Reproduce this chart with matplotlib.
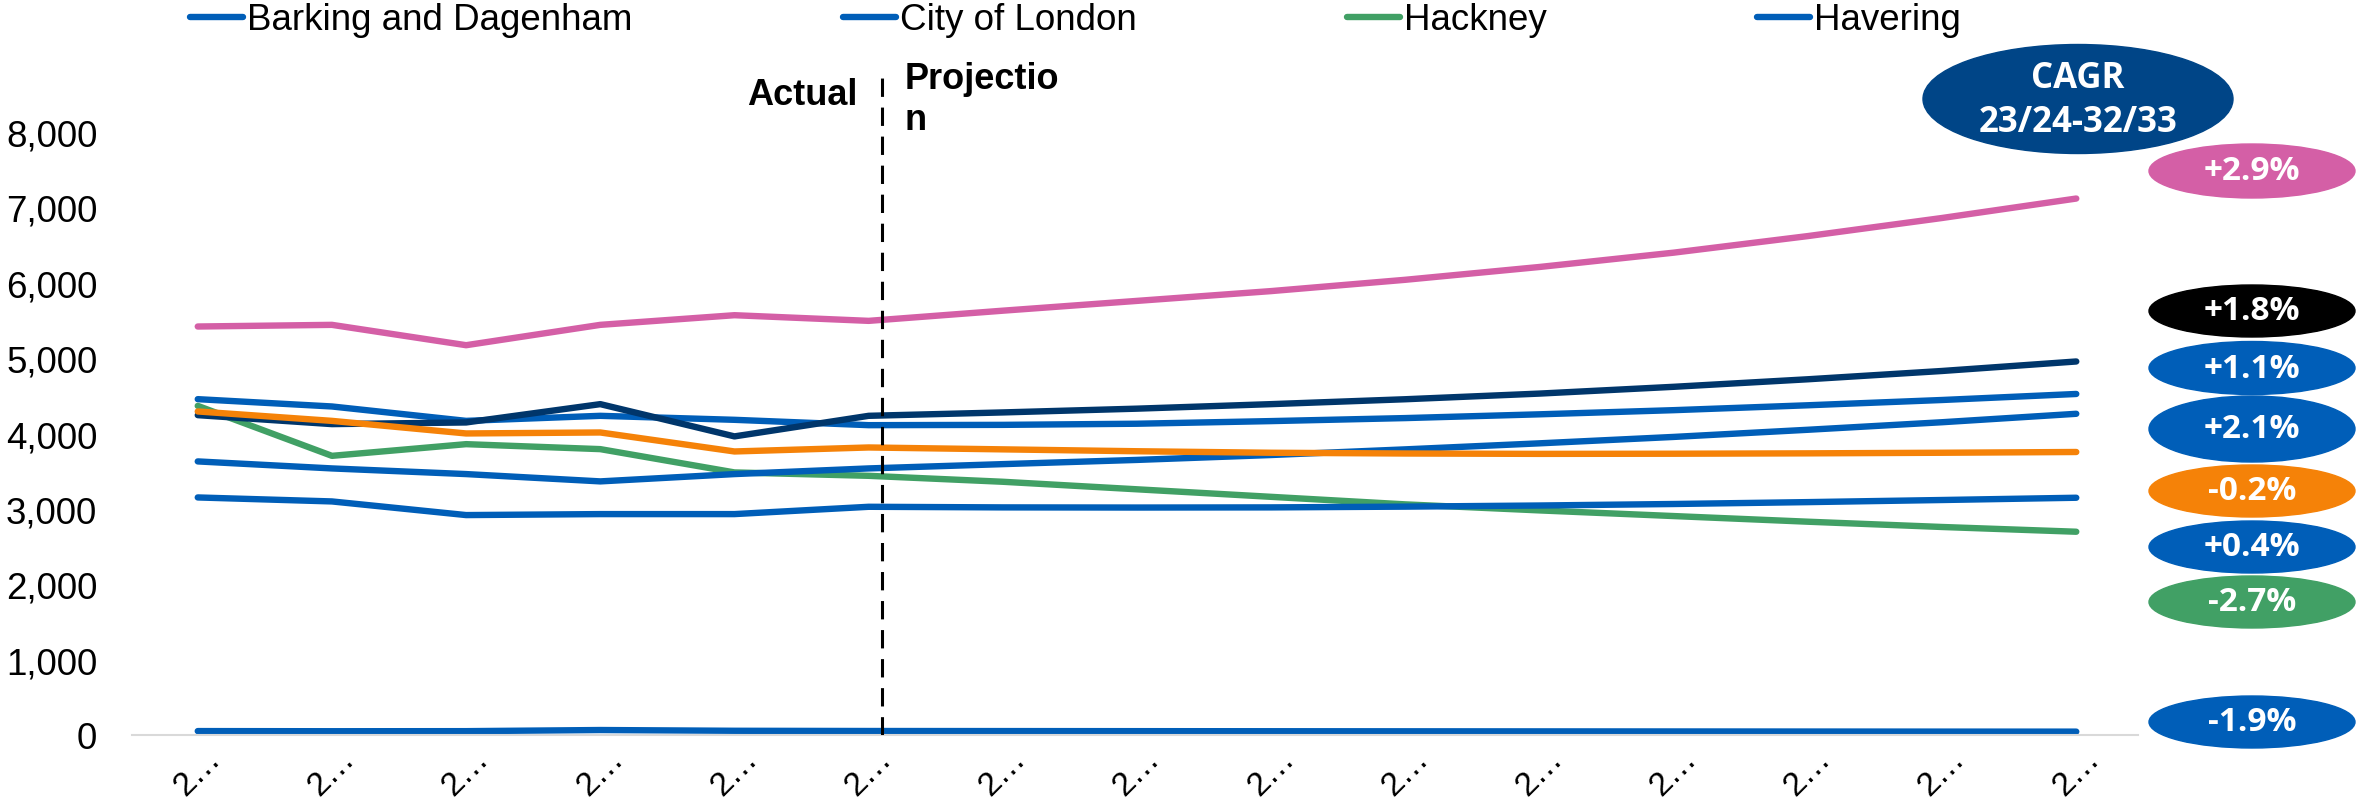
import matplotlib.pyplot as plt
from matplotlib.patches import Ellipse

plt.rcParams["font.family"] = ["Liberation Sans", "DejaVu Sans"]

# School years 2018/19 .. 2032/33; 2023/24 onwards is projected.
years = [
    "2018/19", "2019/20", "2020/21", "2021/22", "2022/23",
    "2023/24", "2024/25", "2025/26", "2026/27", "2027/28",
    "2028/29", "2029/30", "2030/31", "2031/32", "2032/33",
]
LAST_ACTUAL = 5  # index of 2023/24, the base year of the CAGR

barking = [4456, 4359, 4168, 4235, 4182, 4111, 4115, 4130, 4165, 4205,
           4255, 4310, 4375, 4445, 4525]
city = [52, 50, 51, 66, 56, 53, 52, 51, 50, 49, 48, 47, 46, 45, 44.6]
hackney = [4367, 3704, 3859, 3793, 3484, 3439, 3360, 3260, 3160, 3060,
           2980, 2905, 2830, 2760, 2697]
havering = [3630, 3537, 3462, 3365, 3462, 3537, 3594, 3650, 3715, 3790,
            3870, 3955, 4050, 4150, 4262]
newham = [5420, 5442, 5172, 5442, 5570, 5495, 5630, 5760, 5890, 6040,
          6210, 6400, 6620, 6860, 7118]
redbridge = [4244, 4125, 4147, 4390, 3962, 4235, 4280, 4330, 4390, 4455,
             4530, 4620, 4720, 4830, 4956]
tower_hamlets = [4293, 4168, 4001, 4014, 3762, 3815, 3790, 3765, 3745, 3735,
                 3730, 3732, 3737, 3745, 3755]
waltham_forest = [3152, 3099, 2918, 2931, 2931, 3028, 3020, 3018, 3020, 3030,
                  3045, 3065, 3090, 3118, 3148]

BLUE = "#005EB8"
NAVY = "#00366B"
GREEN = "#41A065"
PINK = "#D45FA6"
ORANGE = "#F58208"

series = [
    ("Barking and Dagenham", barking, BLUE),
    ("City of London", city, BLUE),
    ("Hackney", hackney, GREEN),
    ("Havering", havering, BLUE),
    ("Newham", newham, PINK),
    ("Redbridge", redbridge, NAVY),
    ("Tower Hamlets", tower_hamlets, ORANGE),
    ("Waltham Forest", waltham_forest, BLUE),
]

# CAGR 23/24-32/33 bubbles, top to bottom down the right-hand margin.
cagr_labels = ["+2.9%", "+1.8%", "+1.1%", "+2.1%", "-0.2%", "+0.4%", "-2.7%", "-1.9%"]
cagr_colors = [PINK, "black", BLUE, BLUE, ORANGE, BLUE, GREEN, BLUE]
cagr_y_px = [172, 312, 369, 430, 492, 548, 603, 723]
cagr_h_px = [54, 52, 53, 66, 52, 52, 52, 52]

W, H = 2356, 803
fig = plt.figure(figsize=(W / 100, H / 100), dpi=100)
ax = fig.add_axes([132 / W, 1 - 736 / H, (2138 - 132) / W, (736 - 69) / H])

x = list(range(len(years)))
lines = []
for name, values, color in series:
    (ln,) = ax.plot(x, values, color=color, lw=4.6, label=name,
                    solid_capstyle="round", solid_joinstyle="round")
    lines.append(ln)

ax.set_xlim(-0.49, 14.46)
ax.set_ylim(0, 8850)
ax.set_yticks(range(0, 8001, 1000))
ax.set_yticklabels([f"{v:,}" for v in range(0, 8001, 1000)])
# long category names get cut down to their first character
ax.set_xticks(x)
ax.set_xticklabels([y[0] + "\u2026" for y in years], rotation=45,
                   ha="center", va="top")
ax.tick_params(axis="y", length=0, pad=25, labelsize=26.5)
ax.tick_params(axis="x", length=0, pad=5, labelsize=24)
for side in ("top", "right", "left"):
    ax.spines[side].set_visible(False)
ax.spines["bottom"].set_color("#D9D9D9")
ax.spines["bottom"].set_linewidth(1.5)

# actual / projection split
split = LAST_ACTUAL + 0.1
ax.axvline(split, color="black", lw=2.2, dashes=(6, 3.5), zorder=5)
ax.text(split - 0.18, 8371, "Actual", ha="right", va="baseline",
        fontsize=26, fontweight="bold")
ax.text(split + 0.17, 8940, "Projectio\nn", ha="left", va="top",
        fontsize=26, fontweight="bold", linespacing=1.2)

fig.legend(handles=lines[:4], loc="center left",
           bbox_to_anchor=(190 / W, 1 - 21 / H), ncol=4, frameon=False,
           fontsize=26.5, handlelength=1.44, handletextpad=0.12,
           columnspacing=5.7, borderpad=0, borderaxespad=0)

# CAGR header bubble
fig.add_artist(Ellipse((2078 / W, 1 - 100 / H), 310 / W, 109 / H,
                       transform=fig.transFigure, color="#004587"))
fig.text(2078 / W, 1 - 101 / H, "CAGR\n23/24-32/33", ha="center", va="center",
         color="white", fontsize=25, fontweight="bold", family="Open Sans",
         linespacing=1.3)

for label, color, cy, h in zip(cagr_labels, cagr_colors, cagr_y_px, cagr_h_px):
    fig.add_artist(Ellipse((2252 / W, 1 - cy / H), 206 / W, h / H,
                           transform=fig.transFigure, color=color))
    fig.text(2252 / W, 1 - cy / H, label, ha="center", va="center",
             color="white", fontsize=24, fontweight="bold", family="Open Sans")

fig.savefig("out.png", dpi=100)
